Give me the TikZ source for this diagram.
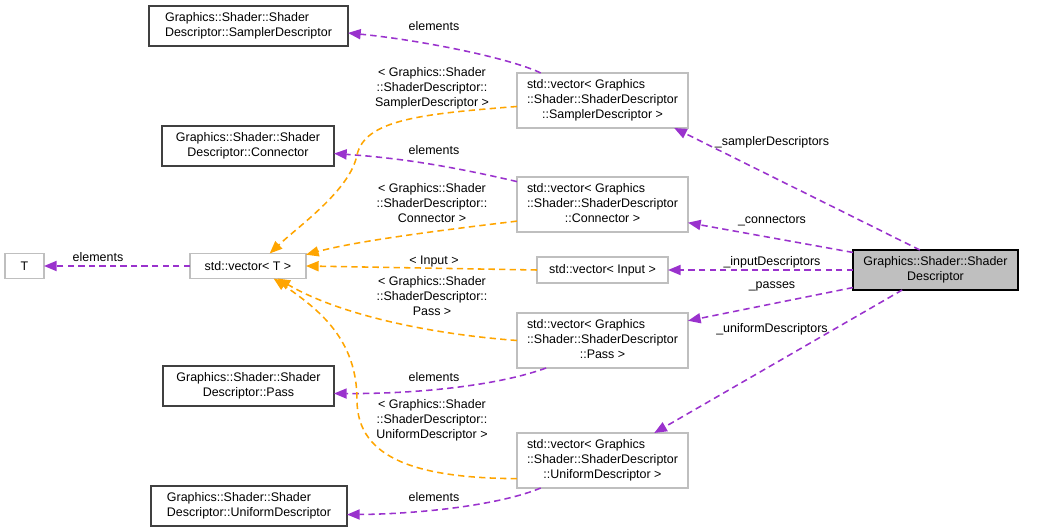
\documentclass[tikz,border=0pt]{standalone}
\usepackage{fontspec}
\setmainfont{Liberation Sans}
\usetikzlibrary{arrows.meta}
\definecolor{usecolor}{HTML}{9A32CD}
\definecolor{tmplcolor}{HTML}{FFA500}
\definecolor{undoccolor}{HTML}{BFBFBF}
\definecolor{doccolor}{HTML}{404040}
\definecolor{mainfill}{HTML}{BFBFBF}
% first lines flush left, last line centred (as graphviz does)
\newcommand{\boxlabel}[2]{%
  \begin{tabular}{@{}l@{}}#1\\\multicolumn{1}{@{}c@{}}{#2}\end{tabular}%
}

\begin{document}
\begin{tikzpicture}[
    x=0.025cm, y=-0.025cm,
    font=\fontsize{8.86}{10.67}\selectfont,
    % Node styles
    docbox/.style={
        rectangle, draw=doccolor, fill=white, line width=1pt,
        inner sep=0pt, outer sep=0pt, minimum height=1cm
    },
    undocbox/.style={
        rectangle, draw=undoccolor, fill=white, line width=0.8pt,
        inner sep=0pt, outer sep=0pt
    },
    mainbox/.style={
        rectangle, draw=black, fill=mainfill, line width=1pt,
        inner sep=0pt, outer sep=0pt, minimum height=1cm
    },
    vecbox/.style={
        undocbox, minimum width=4.275cm, minimum height=1.375cm
    },
    % Edge styles
    useedge/.style={
        -{Triangle[length=9pt, width=7.2pt]}, line width=1.1pt, usecolor,
        dash pattern=on 4.5pt off 3pt
    },
    tmpledge/.style={
        -{Triangle[length=9pt, width=7.2pt]}, line width=1.1pt, tmplcolor,
        dash pattern=on 4.5pt off 3pt
    },
    % Label styles
    elabel/.style={
        inner sep=0pt, align=center
    }
]
\useasboundingbox (0,0) rectangle (1048,532);

% ============ MEMBER CLASSES (LEFT) ============
\node[docbox, minimum width=4.975cm] (sampDesc) at (248.5,26)
    {\boxlabel{Graphics::Shader::Shader}{Descriptor::SamplerDescriptor}};
\node[docbox, minimum width=4.3cm] (connDesc) at (248,146)
    {\boxlabel{Graphics::Shader::Shader}{Descriptor::Connector}};
\node[docbox, minimum width=4.275cm] (passDesc) at (248.5,386)
    {\boxlabel{Graphics::Shader::Shader}{Descriptor::Pass}};
\node[docbox, minimum width=4.9cm] (unifDesc) at (249,506)
    {\boxlabel{Graphics::Shader::Shader}{Descriptor::UniformDescriptor}};

\node[undocbox, minimum width=0.975cm, minimum height=0.625cm] (tNode) at (24.5,266) {T};
\node[undocbox, minimum width=2.9cm, minimum height=0.625cm] (vecT) at (248,266) {std::vector< T >};

% ============ VECTOR INSTANCES (MIDDLE) ============
\node[vecbox] (vecSamp) at (602.5,100.5)
    {\boxlabel{std::vector< Graphics\\::Shader::ShaderDescriptor}{::SamplerDescriptor >}};
\node[vecbox] (vecConn) at (602.5,204.5)
    {\boxlabel{std::vector< Graphics\\::Shader::ShaderDescriptor}{::Connector >}};
\node[undocbox, minimum width=3.275cm, minimum height=0.65cm] (vecInput) at (602.5,270)
    {std::vector< Input >};
\node[vecbox] (vecPass) at (602.5,340.5)
    {\boxlabel{std::vector< Graphics\\::Shader::ShaderDescriptor}{::Pass >}};
\node[vecbox] (vecUnif) at (602.5,460.5)
    {\boxlabel{std::vector< Graphics\\::Shader::ShaderDescriptor}{::UniformDescriptor >}};

% ============ MAIN CLASS ============
\node[mainbox, minimum width=4.125cm] (main) at (935.5,270)
    {\boxlabel{Graphics::Shader::Shader}{Descriptor}};

% ============ EDGES ============
% Main class to its members
\draw[useedge] (main.128) -- (vecSamp.-21);
\draw[useedge] (main.168) -- (vecConn.-12);
\draw[useedge] (main.west) -- (vecInput.east);
\draw[useedge] (main.192) -- (vecPass.13);
\draw[useedge] (main.211) -- (vecUnif.28);

% Vectors to their element types
\draw[useedge] (vecSamp.156) .. controls (510,58) and (420,40) .. (sampDesc.-4);
\draw[useedge] (vecConn.165) .. controls (450,166) and (400,158) .. (connDesc.-5);
\draw[useedge] (vecPass.206) .. controls (500,385) and (420,394) .. (passDesc.-5);
\draw[useedge] (vecUnif.204) .. controls (500,505) and (420,514) .. (unifDesc.-5);
\draw[useedge] (vecT.west) -- (tNode.east);

% Template instances
\draw[tmpledge] (vecSamp.184) .. controls (420,114) and (365,120) .. (357,155)
    .. controls (350,190) and (300,225) .. (vecT.30);
\draw[tmpledge] (vecConn.191) .. controls (460,228) and (360,240) .. (vecT.11);
\draw[tmpledge] (vecInput.west) -- (vecT.east);
\draw[tmpledge] (vecPass.west) .. controls (430,334) and (340,315) .. (vecT.-23);
\draw[tmpledge] (vecUnif.192) .. controls (420,478) and (357,460) .. (357,400)
    .. controls (357,340) and (320,310) .. (vecT.-26);

% ============ EDGE LABELS ============
\node[elabel] (lSamp) at (772,142) {\_samplerDescriptors};
\node[elabel] (lConn) at (772,221) {\_connectors};
\node[elabel] (lInput) at (772,262) {\_inputDescriptors};
\node[elabel] (lPass) at (772,286) {\_passes};
\node[elabel] (lUnif) at (772,329) {\_uniformDescriptors};

\node[elabel] (eSamp) at (434,26) {elements};
\node[elabel] (eConn) at (434,150) {elements};
\node[elabel] (eT) at (98,257) {elements};
\node[elabel] (ePass) at (434,377) {elements};
\node[elabel] (eUnif) at (434,497) {elements};

\node[elabel] (tSamp) at (432,88)
    {< Graphics::Shader\\::ShaderDescriptor::\\SamplerDescriptor >};
\node[elabel] (tConn) at (432,203)
    {< Graphics::Shader\\::ShaderDescriptor::\\Connector >};
\node[elabel] (tInput) at (434,262) {< Input >};
\node[elabel] (tPass) at (432,296)
    {< Graphics::Shader\\::ShaderDescriptor::\\Pass >};
\node[elabel] (tUnif) at (432,420)
    {< Graphics::Shader\\::ShaderDescriptor::\\UniformDescriptor >};

\end{tikzpicture}
\end{document}
